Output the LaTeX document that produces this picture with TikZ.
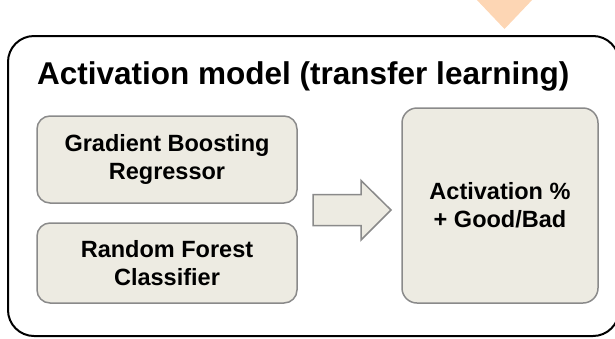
\documentclass[tikz,border=0pt]{standalone}
\usepackage{fontspec}
\setmainfont{Liberation Sans}
\usetikzlibrary{calc}
\definecolor{boxfill}{RGB}{237,235,226}
\definecolor{boxline}{RGB}{138,138,138}
\definecolor{peach}{RGB}{253,214,180}
\begin{document}
\begin{tikzpicture}[x=1pt,y=-1pt,
  modelbox/.style={draw=boxline,line width=1.5pt,fill=boxfill,rounded corners=13pt,
    align=center,inner sep=0pt,font=\fontsize{23.5}{28}\selectfont\bfseries},
  outerbox/.style={draw=black,line width=2pt,rounded corners=26pt},
  blockarrow/.style={draw=boxline,line width=1.5pt,fill=boxfill,line join=miter}]
\useasboundingbox (0,0) rectangle (615,338);
\clip (0,0) rectangle (615,338);
% incoming arrow from above
\fill[peach] (475,-2) -- (534,-2) -- (504.5,29) -- cycle;
% outer container
\draw[outerbox] (8,36) rectangle (619,336);
\node[anchor=base west,inner sep=0pt,font=\fontsize{31.5}{36}\selectfont\bfseries] (title) at (37,84) {Activation model (transfer learning)};
% model boxes
\node[modelbox,minimum width=260pt,minimum height=87pt] (gbr) at (167,159.5) {Gradient Boosting\\Regressor};
\node[modelbox,minimum width=260pt,minimum height=80pt] (rfc) at (167,263) {Random Forest\\Classifier};
\node[modelbox,rounded corners=15pt,minimum width=196pt,minimum height=195pt] (act) at (500,205.5) {Activation \%\\+ Good/Bad};
% block arrow
\coordinate (as) at (313,210);
\coordinate (at) at (391,210);
\draw[blockarrow] ($(as)+(0,-15.5)$) -- ++(48,0) -- ++(0,-14) -- (at) -- ($(as)+(48,30)$) -- ++(0,-14.5) -- ($(as)+(0,15.5)$) -- cycle;
\end{tikzpicture}
\end{document}
